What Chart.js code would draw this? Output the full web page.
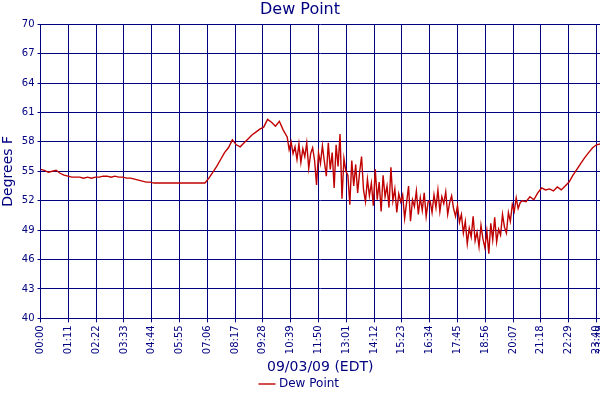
<!DOCTYPE html>
<html><head><meta charset="utf-8">
<script src="https://cdn.jsdelivr.net/npm/chart.js@4"></script>
<style>html,body{margin:0;padding:0;background:#fff}#w{width:600px;height:400px}</style>
</head><body><div id="w"><canvas id="c"></canvas></div>
<script>
const earlyValues=[55.2,55.1,54.9,55.0,55.1,54.8,54.6,54.5,54.4,54.4,54.4,54.3,54.4,54.3,54.4,54.4,54.5,54.5,54.4,54.5,54.4,54.4,54.3,54.3,54.2,54.1,54.0,53.9,53.9,53.8,53.8,53.8,53.8,53.8,53.8,53.8,53.8,53.8,53.8,53.8,53.8,53.8,53.8,54.3,54.9,55.5,56.2,56.9,57.4,58.2,57.7,57.5,57.9,58.3,58.7,59.0,59.3,59.5,60.3,60.0,59.6,60.1,59.2];
const midValues=[58.5,57.2,58.0,56.8,57.5,56.2,57.8,55.9,57.3,56.5,57.9,55.3,56.8,57.4,56.1,53.6,56.9,
55.8,57.6,56.0,54.5,57.9,55.2,56.9,53.3,57.7,55.5,58.8,52.2,56.3,55.0,
54.6,51.6,56.1,53.5,55.7,52.8,54.9,56.5,53.1,51.9,54.2,52.5,53.8,51.5,
55.2,52.1,53.9,50.9,54.6,52.4,53.5,51.3,55.4,52.0,53.2,50.8,52.7,51.9,
52.6,50.2,51.8,53.5,49.9,52.1,51.4,53.0,50.6,52.3,51.0,52.8,50.4,51.9,
52.0,50.8,52.6,51.3,53.1,50.9,52.4,51.7,52.9,50.6,51.8,52.5,51.2,50.4,
51.5,49.8,50.6,48.7,49.9,47.6,49.2,48.3,50.4,47.9,48.8,47.3,49.5,48.1,
47.2,48.9,46.6,49.7,48.0,50.3,47.8,49.1,48.5,50.6,49.3,48.7,50.8,49.9,
51.6,50.9,52.3,51.2,51.8,52.0];
const lateValues=[51.9,52.4,52.1,52.8,53.3,53.1,53.2,53.0,53.4,53.1,53.5,53.9,54.6,55.2,55.8,56.4,56.9,57.4,57.7,57.8];
const tickMinutes=[0,71,142,213,284,355,426,497,568,639,710,781,852,923,994,1065,1136,1207,1278,1349,1420,1429];
const yTicks=[40,43,46,49,52,55,58,61,64,67,70];

const pts=[];
earlyValues.forEach((v,i)=>pts.push({x:i*10,y:v}));
midValues.forEach((v,i)=>pts.push({x:630+i*5,y:v}));
lateValues.forEach((v,i)=>pts.push({x:1240+i*10,y:v}));
const navy='#000080';
const fmt=m=>String(Math.floor(m/60)).padStart(2,'0')+':'+String(m%60).padStart(2,'0');
Chart.defaults.font.family='DejaVu Sans';
new Chart(document.getElementById('c'),{type:'line',
data:{datasets:[{label:'Dew Point',data:pts,borderColor:'#c00000',backgroundColor:'#c00000',borderWidth:1.4,pointRadius:0,tension:0}]},
options:{responsive:true,maintainAspectRatio:false,animation:false,
layout:{padding:{left:0,right:0,top:0,bottom:0}},
plugins:{title:{display:true,text:'Dew Point',color:navy,font:{size:16,weight:'normal'},padding:{top:0,bottom:5}},
legend:{position:'bottom',labels:{color:navy,usePointStyle:true,pointStyle:'line',boxWidth:14,font:{size:12},padding:2}},tooltip:{enabled:false}},
scales:{
x:{type:'linear',min:0,max:1429,
afterBuildTicks:a=>{a.ticks=tickMinutes.map(v=>({value:v}));},
afterFit:a=>{a.paddingRight=0;},
ticks:{color:navy,font:{size:10},maxRotation:90,minRotation:90,autoSkip:false,callback:v=>fmt(v)},
grid:{color:navy,lineWidth:1,drawTicks:true,tickLength:4},border:{color:navy},
title:{display:true,text:'09/03/09 (EDT)',color:navy,font:{size:14},padding:{top:2,bottom:0}}},
y:{min:40,max:70,
afterBuildTicks:a=>{a.ticks=yTicks.map(v=>({value:v}));},
ticks:{color:navy,font:{size:10},padding:3},
grid:{color:navy,lineWidth:1,tickLength:3},border:{color:navy},
title:{display:true,text:'Degrees F',color:navy,font:{size:14},padding:{top:0,bottom:2}}}}}});
</script></body></html>
